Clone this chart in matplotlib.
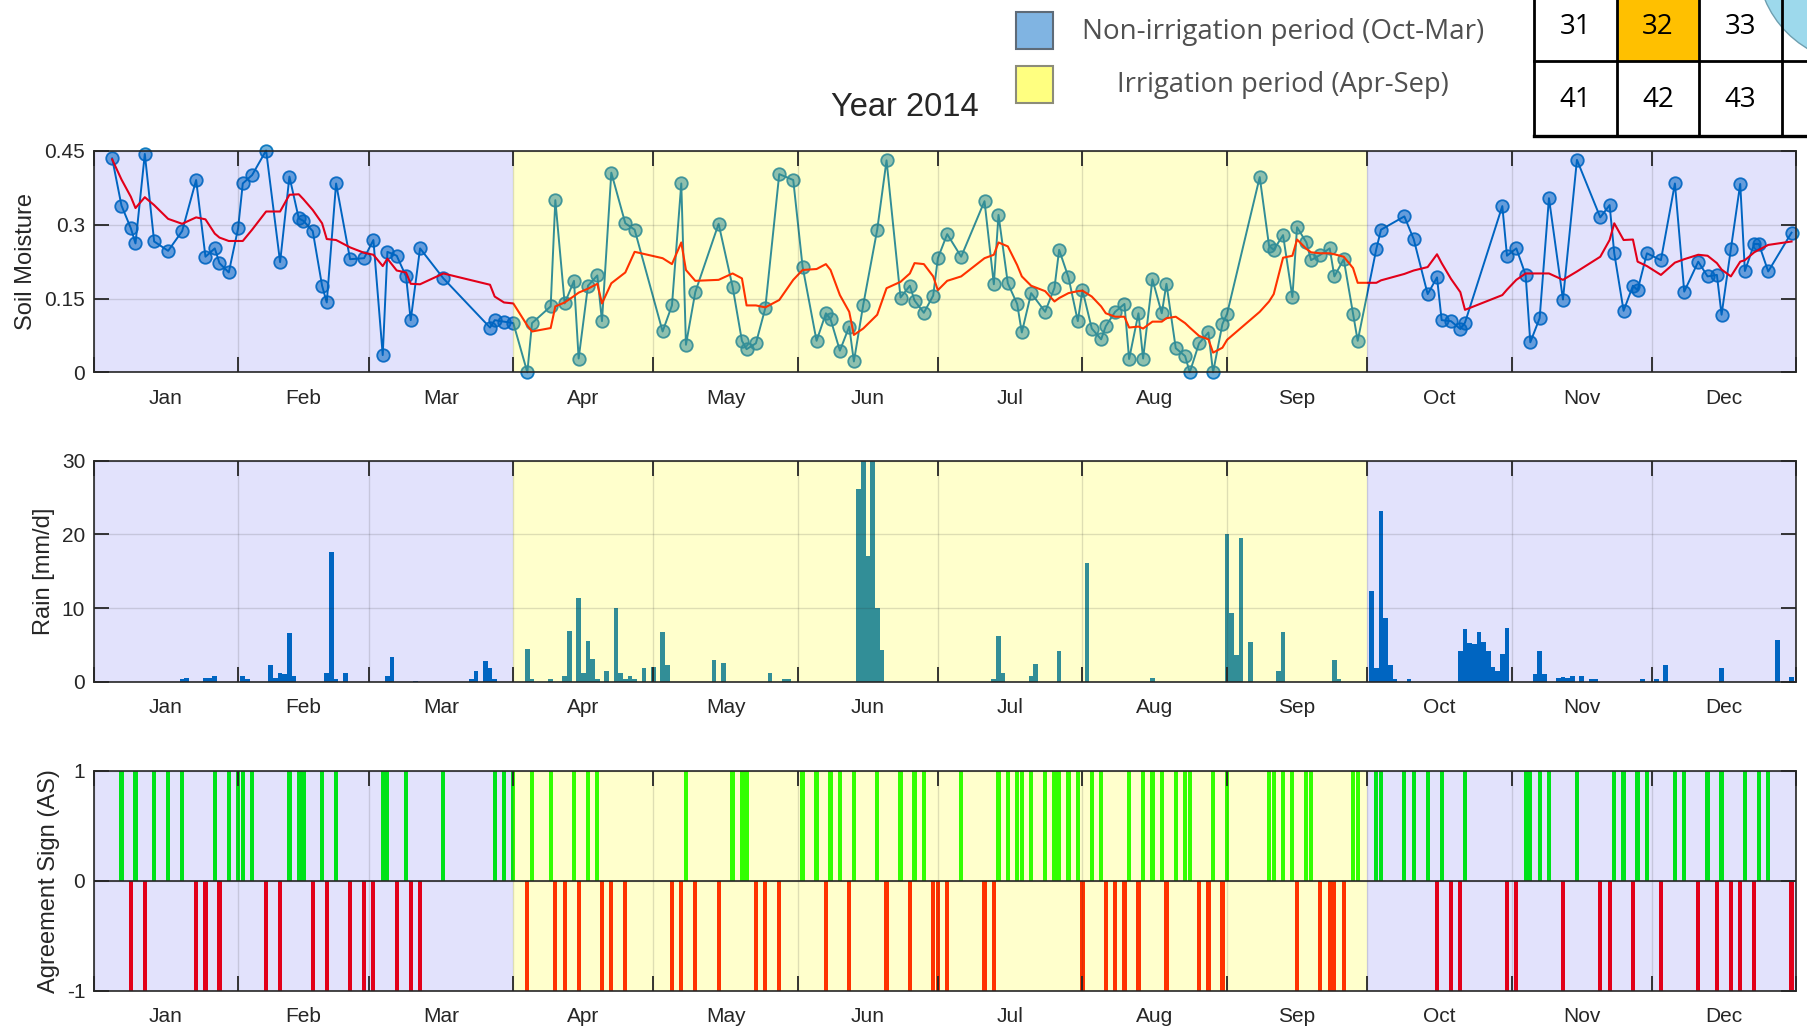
import numpy as np
import matplotlib
matplotlib.use("Agg")
import matplotlib.pyplot as plt
from matplotlib.patches import Rectangle, Circle

plt.rcParams['font.family'] = ['Liberation Sans', 'DejaVu Sans']
plt.rcParams['axes.unicode_minus'] = False

# ---------------- data ----------------
months = ['Jan', 'Feb', 'Mar', 'Apr', 'May', 'Jun', 'Jul', 'Aug', 'Sep', 'Oct', 'Nov', 'Dec']
month_start = [0, 31, 59, 90, 120, 151, 181, 212, 243, 273, 304, 334, 365]
irr_start, irr_end = 90, 273

sm_day = [4, 6, 8, 9, 11, 13, 16, 19, 22, 24, 26, 27, 29, 31, 32, 34, 37, 40, 42, 44,
          45, 47, 49, 50, 52, 55, 58, 60, 62, 63, 65, 67, 68, 70, 75, 85, 86, 88, 90, 93,
          94, 98, 99, 101, 103, 104, 106, 108, 109, 111, 114, 116, 122, 124, 126, 127, 129, 134, 137, 139,
          140, 142, 144, 147, 150, 152, 155, 157, 158, 160, 162, 163, 165, 168, 170, 173, 175, 176, 178, 180,
          181, 183, 186, 191, 193, 194, 196, 198, 199, 201, 204, 206, 207, 209, 211, 212, 214, 216, 217, 219,
          221, 222, 224, 225, 227, 229, 230, 232, 234, 235, 237, 239, 240, 242, 243, 250, 252, 253, 255, 257,
          258, 260, 261, 263, 265, 266, 268, 270, 271, 275, 276, 281, 283, 286, 288, 289, 291, 293, 294, 302,
          303, 305, 307, 308, 310, 312, 315, 318, 323, 325, 326, 328, 330, 331, 333, 336, 339, 341, 344, 346,
          348, 349, 351, 353, 354, 356, 357, 359, 364]
sm_val = [0.435, 0.339, 0.293, 0.262, 0.444, 0.266, 0.247, 0.287, 0.391, 0.235, 0.252, 0.222, 0.203, 0.293, 0.384, 0.401, 0.451, 0.224, 0.398, 0.313,
          0.308, 0.287, 0.176, 0.142, 0.384, 0.230, 0.232, 0.269, 0.035, 0.245, 0.237, 0.195, 0.106, 0.252, 0.191, 0.091, 0.106, 0.103, 0.100, 0.000,
          0.100, 0.134, 0.350, 0.140, 0.186, 0.028, 0.176, 0.197, 0.104, 0.406, 0.303, 0.290, 0.083, 0.136, 0.384, 0.056, 0.163, 0.302, 0.174, 0.064,
          0.047, 0.059, 0.130, 0.403, 0.391, 0.215, 0.064, 0.120, 0.108, 0.044, 0.093, 0.022, 0.137, 0.290, 0.431, 0.152, 0.176, 0.146, 0.121, 0.156,
          0.232, 0.281, 0.235, 0.348, 0.179, 0.320, 0.181, 0.139, 0.081, 0.161, 0.123, 0.172, 0.249, 0.193, 0.104, 0.167, 0.089, 0.067, 0.094, 0.123,
          0.139, 0.027, 0.120, 0.028, 0.189, 0.120, 0.180, 0.049, 0.033, 0.000, 0.059, 0.081, 0.000, 0.098, 0.119, 0.397, 0.257, 0.249, 0.279, 0.153,
          0.295, 0.264, 0.228, 0.239, 0.252, 0.195, 0.230, 0.119, 0.064, 0.251, 0.290, 0.317, 0.271, 0.159, 0.193, 0.106, 0.104, 0.088, 0.101, 0.338,
          0.237, 0.252, 0.198, 0.061, 0.110, 0.354, 0.148, 0.432, 0.315, 0.340, 0.242, 0.125, 0.176, 0.167, 0.242, 0.228, 0.384, 0.164, 0.225, 0.195,
          0.198, 0.117, 0.251, 0.383, 0.206, 0.261, 0.261, 0.205, 0.284]
sm_avg = [0.433, 0.392, 0.357, 0.334, 0.356, 0.340, 0.312, 0.302, 0.315, 0.311, 0.282, 0.274, 0.267, 0.267, 0.267, 0.290, 0.327, 0.327, 0.361, 0.362,
          0.352, 0.330, 0.303, 0.271, 0.269, 0.254, 0.243, 0.239, 0.216, 0.231, 0.207, 0.203, 0.180, 0.179, 0.201, 0.178, 0.154, 0.142, 0.140, 0.095,
          0.083, 0.090, 0.134, 0.142, 0.155, 0.162, 0.170, 0.180, 0.140, 0.181, 0.203, 0.245, 0.232, 0.220, 0.264, 0.208, 0.186, 0.188, 0.201, 0.191,
          0.136, 0.136, 0.132, 0.147, 0.188, 0.208, 0.210, 0.220, 0.208, 0.157, 0.123, 0.076, 0.089, 0.117, 0.171, 0.184, 0.201, 0.222, 0.220, 0.195,
          0.167, 0.186, 0.195, 0.232, 0.239, 0.264, 0.256, 0.218, 0.195, 0.176, 0.165, 0.144, 0.151, 0.161, 0.165, 0.166, 0.154, 0.134, 0.120, 0.113,
          0.113, 0.091, 0.093, 0.089, 0.103, 0.103, 0.110, 0.113, 0.100, 0.091, 0.074, 0.067, 0.040, 0.050, 0.066, 0.123, 0.144, 0.159, 0.233, 0.237,
          0.270, 0.251, 0.244, 0.242, 0.242, 0.240, 0.235, 0.212, 0.182, 0.182, 0.187, 0.200, 0.207, 0.214, 0.240, 0.222, 0.190, 0.163, 0.127, 0.157,
          0.168, 0.188, 0.201, 0.201, 0.201, 0.201, 0.188, 0.205, 0.235, 0.269, 0.303, 0.269, 0.270, 0.225, 0.216, 0.198, 0.223, 0.230, 0.239, 0.237,
          0.222, 0.209, 0.195, 0.225, 0.228, 0.244, 0.249, 0.259, 0.266]

rain_day = [19, 20, 24, 25, 26, 32, 33, 38, 39, 40, 41, 42, 43, 50, 51, 52, 54, 63, 64, 69, 81, 82, 84, 85, 86,
            93, 94, 98, 101, 102, 104, 105, 106, 107, 108, 110, 112, 113, 114, 115, 116, 118, 120, 122, 123, 133, 135, 145, 148, 149,
            164, 165, 166, 167, 168, 169, 193, 194, 195, 201, 202, 207, 213, 227,
            243, 244, 245, 246, 248, 254, 255, 266, 267,
            274, 275, 276, 277, 278, 279, 282, 293, 294, 295, 296, 297, 298, 299, 300, 301, 302, 303,
            309, 310, 311, 314, 315, 316, 317, 319, 321, 322, 332, 335, 337, 349, 361, 364]
rain_val = [0.4, 0.5, 0.5, 0.5, 0.8, 0.8, 0.3, 2.3, 0.5, 1.2, 1.0, 6.6, 0.8, 1.2, 17.6, 0.3, 1.2, 0.8, 3.3, 0.1, 0.4, 1.4, 2.8, 1.8, 0.4,
            4.4, 0.4, 0.3, 0.8, 6.9, 11.3, 1.2, 5.5, 3.1, 0.4, 1.5, 10.0, 1.2, 0.4, 0.8, 0.4, 1.8, 2.0, 6.7, 2.2, 3.0, 2.6, 1.2, 0.4, 0.4,
            26.2, 38.0, 17.0, 35.0, 10.0, 4.3, 0.3, 6.2, 1.2, 0.8, 2.4, 4.1, 16.1, 0.5,
            20.1, 9.3, 3.6, 19.5, 5.4, 1.4, 6.8, 3.0, 0.3,
            12.3, 1.8, 23.2, 8.7, 2.3, 0.3, 0.3, 4.1, 7.2, 5.3, 5.1, 6.7, 5.4, 4.2, 2.0, 1.5, 3.8, 7.3,
            1.0, 4.2, 1.1, 0.5, 0.7, 0.5, 0.8, 0.8, 0.4, 0.4, 0.3, 0.4, 2.2, 1.8, 5.7, 0.6]

as_agree_day = [6, 9, 13, 16, 19, 26, 29, 31, 32, 34, 42, 44, 45, 49, 52, 62, 63, 67, 75, 86, 88, 90, 94, 98,
                103, 106, 108, 127, 137, 139, 140, 152, 155, 158, 160, 163, 168, 173, 176, 178, 186, 194, 196,
                198, 199, 201, 204, 206, 207, 209, 211, 214, 216, 222, 225, 227, 229, 232, 234, 235, 240, 243,
                252, 253, 255, 257, 260, 261, 270, 271, 275, 276, 281, 283, 286, 289, 294, 307, 308, 310, 312,
                318, 326, 328, 331, 333, 339, 341, 346, 349, 354, 357, 359]
as_disagree_day = [8, 11, 22, 24, 27, 37, 40, 47, 50, 55, 58, 60, 65, 68, 70, 93, 99, 101, 104, 109, 111, 114,
                   124, 126, 129, 134, 142, 144, 147, 157, 162, 170, 175, 180, 181, 183, 191, 193, 212, 217, 219,
                   221, 224, 230, 237, 239, 242, 258, 263, 265, 266, 268, 288, 291, 293, 303, 305, 315, 323, 325,
                   330, 336, 344, 348, 351, 353, 356, 364]

legend_labels = ['Non-irrigation period (Oct-Mar)', 'Irrigation period (Apr-Sep)']
table_numbers = [['31', '32', '33'], ['41', '42', '43']]

# ---------------- figure ----------------
W, H = 1807, 1031
fig = plt.figure(figsize=(W / 100, H / 100), dpi=100)
fig.patch.set_facecolor('white')

dark = (0.15, 0.15, 0.15)
blue = (0.0, 0.447, 0.741)
left_px, right_px = 93.5, 1796.2


def add_ax(top_px, bottom_px):
    return fig.add_axes([left_px / W, 1 - bottom_px / H, (right_px - left_px) / W, (bottom_px - top_px) / H])


ax1 = add_ax(151, 372.3)
ax2 = add_ax(460.7, 681.7)
ax3 = add_ax(770.7, 990.7)

mid = [(a + b) / 2 for a, b in zip(month_start[:-1], month_start[1:])]


def style(ax):
    ax.set_xlim(month_start[0], month_start[-1])
    ax.set_xticks(month_start)
    ax.set_xticklabels([])
    ax.set_xticks(mid, minor=True)
    ax.set_xticklabels(months, minor=True)
    ax.tick_params(axis='x', which='minor', length=0, pad=12, labelsize=15, labelcolor=dark,
                   top=False, bottom=False)
    ax.tick_params(axis='both', which='major', direction='in', length=11, width=1.3,
                   top=True, right=True, labelsize=15, color=dark, labelcolor=dark, pad=6)
    ax.grid(True, which='major', color=dark, alpha=0.15, lw=1)
    ax.set_axisbelow(False)
    for s in ax.spines.values():
        s.set_color(dark)
        s.set_linewidth(1.2)
    ax.set_facecolor('white')
    ax.axvspan(month_start[0], irr_start, color=(0, 0, 0.9), alpha=0.115, lw=0, zorder=2.2)
    ax.axvspan(irr_start, irr_end, color=(1, 1, 0), alpha=0.2, lw=0, zorder=2.2)
    ax.axvspan(irr_end, month_start[-1], color=(0, 0, 0.9), alpha=0.115, lw=0, zorder=2.2)


for ax in (ax1, ax2, ax3):
    style(ax)

# soil moisture
ax1.plot(sm_day, sm_val, '-', color=blue, lw=1.4, marker='o', ms=9,
         mfc=(*blue, 0.55), mec=(*blue, 0.9), mew=1.3, clip_on=False, zorder=2)
ax1.plot(sm_day, sm_avg, '-', color=(1, 0, 0), lw=1.5, zorder=2.1)
ax1.set_ylim(0, 0.45)
ax1.set_yticks([0, 0.15, 0.3, 0.45])
ax1.set_yticklabels(['0', '0.15', '0.3', '0.45'])
ax1.set_ylabel('Soil Moisture', fontsize=17, color=dark, labelpad=5)

# rain
ax2.bar(rain_day, rain_val, width=1.0, color=blue, lw=0, zorder=2)
ax2.set_ylim(0, 30)
ax2.set_yticks([0, 10, 20, 30])
ax2.set_ylabel('Rain [mm/d]', fontsize=17, color=dark, labelpad=5)

# agreement sign
ax3.bar(as_agree_day, np.ones(len(as_agree_day)), width=0.9, color=(0, 1, 0), lw=0, zorder=2)
ax3.bar(as_disagree_day, -np.ones(len(as_disagree_day)), width=0.9, color=(1, 0, 0), lw=0, zorder=2)
ax3.axhline(0, color=dark, lw=1.2, zorder=3)
ax3.set_ylim(-1, 1)
ax3.set_yticks([-1, 0, 1])
ax3.set_ylabel('Agreement Sign (AS)', fontsize=17, color=dark, labelpad=5)

# title
fig.text(905 / W, 1 - 108 / H, 'Year 2014', ha='center', va='center', fontsize=23.5, color='#262626')

# overlay for legend and grid table
ov = fig.add_axes([0, 0, 1, 1], zorder=5)
ov.set_xlim(0, W)
ov.set_ylim(H, 0)
ov.axis('off')
ov.patch.set_alpha(0)

ov.add_patch(Rectangle((1016, 12), 37, 37, fc='#80B4E2', ec='#5E6B78', lw=1.5))
ov.add_patch(Rectangle((1016, 66), 37, 37, fc='#FFFF80', ec='#8C8C7A', lw=1.5))

renderer = fig.canvas.get_renderer()
legend_fonts = ['Open Sans', 'Lato', 'DejaVu Sans']
for label, y, target_w in zip(legend_labels, [32, 85], [402, 333]):
    t = ov.text(1283, y, label, ha='center', va='center', fontsize=22,
                family=legend_fonts, color='#505050', fontweight='normal')
    w = t.get_window_extent(renderer=renderer).width
    t.set_fontsize(22 * target_w / w)

ov.add_patch(Rectangle((1617, -5), 82, 66, fc='#FFC000', ec='none', zorder=1))
ov.add_patch(Circle((1860, -40), 103, fc='#9DD9EC', ec='#6E9FB0', lw=1, zorder=1))
for x in [1534, 1617, 1699, 1782]:
    ov.plot([x, x], [-5, 136], color='black', lw=2.0, zorder=3, solid_capstyle='butt')
ov.plot([1534, W], [61, 61], color='black', lw=2.0, zorder=3)
ov.plot([1534, W], [136, 136], color='black', lw=2.4, zorder=3)
col_x = [1575.5, 1658, 1740.5]
row_y = [27, 100]
for r, row in enumerate(table_numbers):
    for c, t in enumerate(row):
        ov.text(col_x[c], row_y[r], t, ha='center', va='center', fontsize=20, color='black',
                family=['Open Sans', 'Liberation Sans'])

fig.savefig('out.png', dpi=100, facecolor='white')
